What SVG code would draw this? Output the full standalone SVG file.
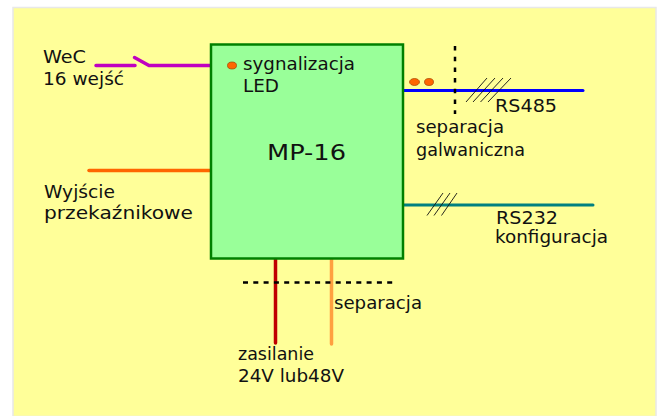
<svg xmlns="http://www.w3.org/2000/svg" width="659" height="416" viewBox="0 0 659 416">
<style>
text{font-family:"DejaVu Sans",Verdana,sans-serif;font-size:17.500px;fill:#111}
.w{fill:none;stroke-linecap:round}
.t{stroke:#111;stroke-width:.9;fill:none}
.d{stroke:#000;stroke-width:2.500;fill:none}
.led{fill:#f60;stroke:#a04000;stroke-width:.7}
</style>
<rect width="659" height="416" fill="#fff"/>
<rect x="13" y="7.500" width="643" height="409" fill="#ffff99" stroke="#e8e8e8" stroke-width="1.500"/>
<g id="connectors">
<path class="w" d="M96 65.500H135M134.500 57.500L149 65.500H211" stroke="#c000c0" stroke-width="3.500"/>
<path class="w" d="M89 170.500H211" stroke="#ff6600" stroke-width="3.500"/>
<path class="w" d="M403 90.500H583" stroke="#0000ff" stroke-width="3"/>
<path class="w" d="M403 205H593" stroke="#008080" stroke-width="3"/>
<path class="w" d="M275.500 258V343" stroke="#c00000" stroke-width="3.500"/>
<path class="w" d="M331.500 258V344" stroke="#ffa040" stroke-width="3.500"/>
<path class="d" d="M455 46V114" stroke-dasharray="4.500 6.200"/>
<path class="d" d="M243 282.500H396" stroke-dasharray="5 5.300"/>
<path class="t" d="M466 102L487 78M473 102L495 78M480.500 102L503 78M488 102L511 78"/>
<path class="t" d="M427 215.500L443 193M434 215.500L450 193M441.500 215.500L457 193"/>
</g>
<g id="mp16">
<rect x="211" y="44.500" width="192" height="214" fill="#99ff99" stroke="#008000" stroke-width="2.500"/>
<text x="267" y="160" style="font-size:21px" textLength="79" lengthAdjust="spacingAndGlyphs">MP-16</text>
</g>
<g id="led-sygnalizacja">
<ellipse cx="232" cy="65.500" rx="4.500" ry="3.500" class="led"/>
<text x="243" y="70" textLength="112" lengthAdjust="spacingAndGlyphs">sygnalizacja</text>
<text x="243" y="92" textLength="36" lengthAdjust="spacingAndGlyphs">LED</text>
</g>
<g id="led-rs485">
<ellipse cx="414.500" cy="82" rx="5" ry="3.500" class="led"/>
<ellipse cx="429" cy="82" rx="4.500" ry="3.500" class="led"/>
</g>
<g id="labels">
<text x="43" y="63" textLength="43" lengthAdjust="spacingAndGlyphs">WeC</text>
<text x="43" y="85" textLength="81" lengthAdjust="spacingAndGlyphs">16 wejść</text>
<text x="44" y="198" textLength="71" lengthAdjust="spacingAndGlyphs">Wyjście</text>
<text x="44" y="219" textLength="149" lengthAdjust="spacingAndGlyphs">przekaźnikowe</text>
<text x="495" y="112" textLength="62" lengthAdjust="spacingAndGlyphs">RS485</text>
<text x="416" y="133" textLength="88" lengthAdjust="spacingAndGlyphs">separacja</text>
<text x="416" y="156" textLength="109" lengthAdjust="spacingAndGlyphs">galwaniczna</text>
<text x="496" y="224" textLength="62" lengthAdjust="spacingAndGlyphs">RS232</text>
<text x="495" y="243" textLength="113" lengthAdjust="spacingAndGlyphs">konfiguracja</text>
<text x="334" y="309" textLength="88" lengthAdjust="spacingAndGlyphs">separacja</text>
<text x="238" y="360" textLength="76" lengthAdjust="spacingAndGlyphs">zasilanie</text>
<text x="238" y="382" textLength="106" lengthAdjust="spacingAndGlyphs">24V lub48V</text>
</g>
</svg>
